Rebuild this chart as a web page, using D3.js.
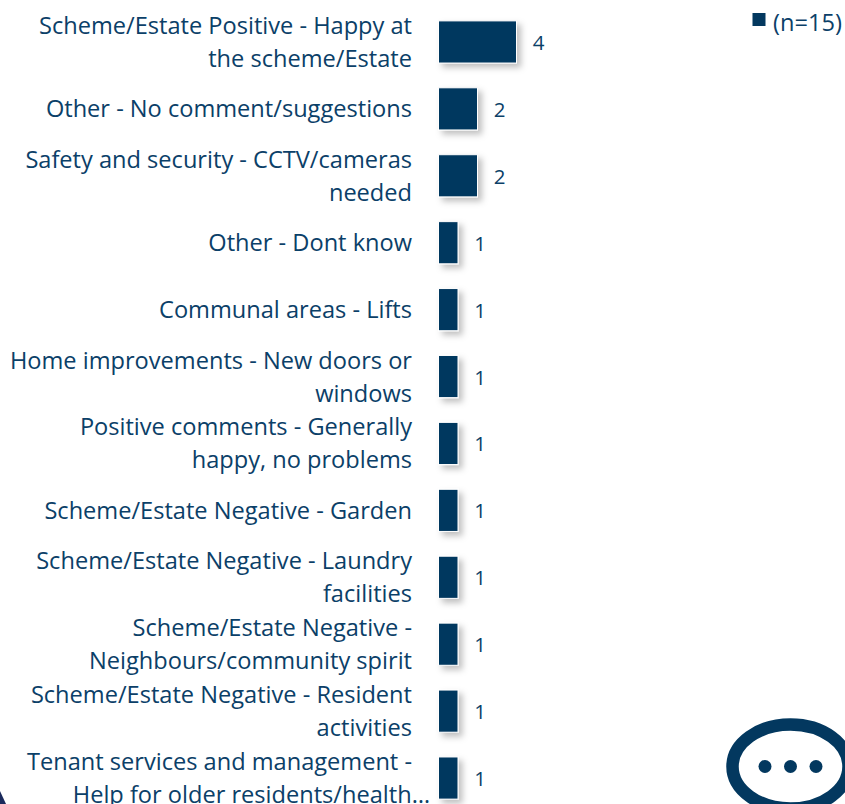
<!DOCTYPE html>
<html>
<head>
<meta charset="utf-8">
<script src="https://cdn.jsdelivr.net/npm/d3@7"></script>
<style>
  html, body { margin: 0; padding: 0; background: #fff; overflow: hidden; }
  text { font-family: "Open Sans", sans-serif; fill: #0b4068; }
</style>
</head>
<body>
<svg id="chart" width="845" height="804"></svg>
<script>
const categories = [
    "Scheme/Estate Positive - Happy at|the scheme/Estate",
    "Other - No comment/suggestions",
    "Safety and security - CCTV/cameras|needed",
    "Other - Dont know",
    "Communal areas - Lifts",
    "Home improvements - New doors or|windows",
    "Positive comments - Generally|happy, no problems",
    "Scheme/Estate Negative - Garden",
    "Scheme/Estate Negative - Laundry|facilities",
    "Scheme/Estate Negative -|Neighbours/community spirit",
    "Scheme/Estate Negative - Resident|activities",
    "Tenant services and management -|Help for older residents/health…"
];
const values = [4, 2, 2, 1, 1, 1, 1, 1, 1, 1, 1, 1];
const seriesName = "(n=15)";

const navy = "#03385f";
const svg = d3.select("#chart");

const x = d3.scaleLinear().domain([0, 4]).range([438.5, 516.5]);
const y = d3.scaleBand().domain(categories).range([8.5, 811.5]).paddingInner(0.37).paddingOuter(0.185);

// soft shadow on the bars
const shadow = svg.append("defs").append("filter")
    .attr("id", "bar-shadow")
    .attr("x", "-40%").attr("y", "-40%")
    .attr("width", "200%").attr("height", "200%");
shadow.append("feDropShadow")
    .attr("dx", 4).attr("dy", 4)
    .attr("stdDeviation", 3)
    .attr("flood-color", "#000")
    .attr("flood-opacity", 0.25);

// Bars
svg.selectAll(".bar")
    .data(categories)
    .enter()
    .append("rect")
    .attr("class", "bar")
    .attr("x", x(0))
    .attr("y", d => y(d))
    .attr("width", (d, i) => x(values[i]) - x(0))
    .attr("height", y.bandwidth())
    .attr("fill", navy)
    .attr("stroke", "#fff")
    .attr("stroke-width", 1)
    .attr("filter", "url(#bar-shadow)");

// Category axis, the tick labels wrap over two lines
const axis = svg.append("g")
    .attr("transform", `translate(${x(0)},0)`)
    .call(d3.axisLeft(y).tickSize(0).tickPadding(26.5));
axis.select(".domain").remove();
axis.selectAll(".tick text").each(function (d) {
    const lines = d.split("|");
    const label = d3.select(this).text(null)
        .attr("dy", null)
        .style("font-size", "23.6px")
        .style("dominant-baseline", "central");
    lines.forEach((line, i) => {
        label.append("tspan")
            .attr("x", line.endsWith("…") ? -8.5 : -26.5)
            .attr("y", (i - (lines.length - 1) / 2) * 33 - 0.5)
            .text(line);
    });
});

// Value labels
svg.selectAll(".value-label")
    .data(categories)
    .enter()
    .append("text")
    .attr("class", "value-label")
    .attr("x", (d, i) => x(values[i]) + 22)
    .attr("y", d => y(d) + y.bandwidth() / 2)
    .attr("text-anchor", "middle")
    .attr("dominant-baseline", "central")
    .style("font-size", "20.5px")
    .text((d, i) => values[i]);

// Legend
svg.append("rect")
    .attr("x", 752.5).attr("y", 13)
    .attr("width", 13).attr("height", 13)
    .attr("fill", navy);
svg.append("text")
    .attr("x", 773).attr("y", 21.5)
    .attr("dominant-baseline", "central")
    .style("font-size", "23.6px")
    .text(seriesName);

// Speech bubble icon, bottom right
const icon = svg.append("g").attr("transform", "translate(790.5,766.5)");
icon.append("ellipse")
    .attr("rx", 58).attr("ry", 42)
    .attr("fill", "none")
    .attr("stroke", navy)
    .attr("stroke-width", 12.5);
icon.selectAll("circle")
    .data([-25.5, 0, 25.5])
    .enter()
    .append("circle")
    .attr("cx", d => d)
    .attr("r", 6.5)
    .attr("fill", navy);

// Corner of the dark shape cut off at bottom left
svg.append("path")
    .attr("d", d3.line()([[0, 804], [0, 791], [6, 804]]))
    .attr("fill", "#1b2a5c");
</script>
</body>
</html>
